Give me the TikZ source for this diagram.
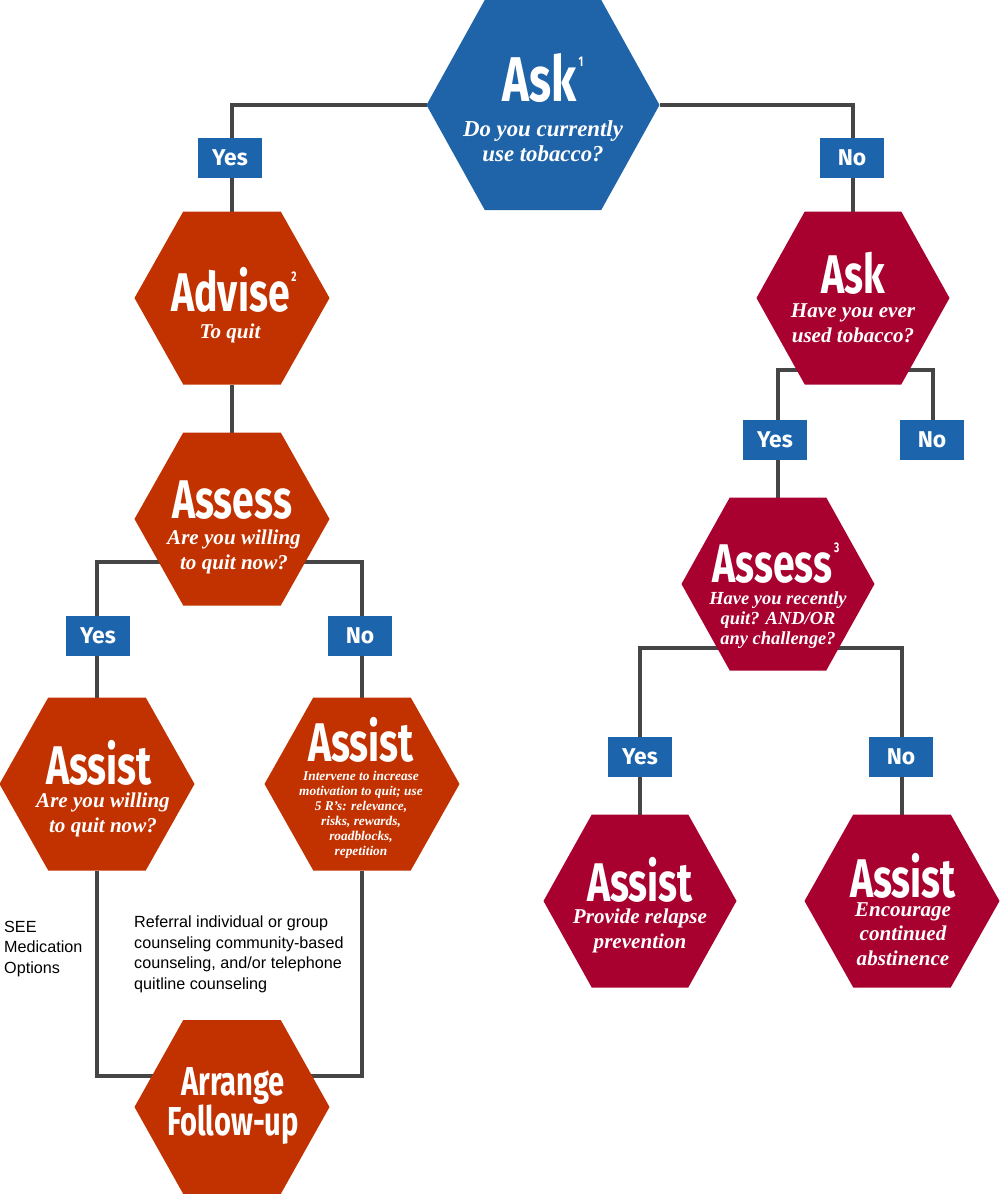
\documentclass[tikz,border=0pt]{standalone}
\usepackage{fontspec}
\setmainfont{Liberation Serif}
\newfontfamily\headfont{Fira Sans}
\newfontfamily\plainfont{Liberation Sans}
\usetikzlibrary{calc}
\pgfdeclarelayer{background}
\pgfsetlayers{background,main}
\definecolor{askblue}{HTML}{1F64A8}
\definecolor{tagblue}{HTML}{1C64AB}
\definecolor{redhex}{HTML}{A8002F}
\definecolor{orangehex}{HTML}{C23200}
\definecolor{linegray}{HTML}{454545}
\tikzset{
  hexbox/.style={draw=none,inner sep=0,outer sep=0},
  tag/.style={fill=tagblue,text=white,minimum width=64*0.02cm,minimum height=40*0.02cm,
    inner sep=0,font=\headfont\bfseries\fontsize{13}{13}\selectfont},
  link/.style={draw=linegray,line width=2.2pt},
  title/.style={text=white,inner sep=0,font=\headfont\bfseries\fontsize{31}{31}\selectfont},
  sub/.style={text=white,inner sep=0,align=center,font=\bfseries\itshape\fontsize{12}{14}\selectfont}
}
\newcommand{\hexnode}[5]{%
  \node[hexbox,minimum width=#3*0.02cm,minimum height=#4*0.02cm] (#1) at #2 {};
  \fill[#5] (#1.west) -- ($(#1.north west)!.25!(#1.north east)$)
    -- ($(#1.north west)!.75!(#1.north east)$) -- (#1.east)
    -- ($(#1.south west)!.75!(#1.south east)$)
    -- ($(#1.south west)!.25!(#1.south east)$) -- cycle;}
\newcommand{\cond}[1]{\scalebox{0.72}[1]{#1}}
\newcommand{\fnum}[1]{\raisebox{0.55em}{\fontsize{8}{8}\selectfont\,#1}}
\begin{document}
\begin{tikzpicture}[x=0.02cm,y=-0.02cm]
\useasboundingbox (0,0) rectangle (1000,1194);
% hexagons
\hexnode{ask}{(543,105)}{233}{210}{askblue}
\hexnode{askever}{(853,298)}{193}{173}{redhex}
\hexnode{advise}{(232,298)}{195}{173}{orangehex}
\hexnode{assessL}{(232,519)}{195}{173}{orangehex}
\hexnode{assessR}{(778,584)}{193}{173}{redhex}
\hexnode{assistA}{(97,784)}{195}{173}{orangehex}
\hexnode{assistB}{(362,784)}{195}{173}{orangehex}
\hexnode{arrange}{(232,1107)}{195}{174}{orangehex}
\hexnode{assistC}{(640,901)}{193}{173}{redhex}
\hexnode{assistD}{(902,901)}{195}{173}{redhex}
% connectors
\begin{pgfonlayer}{background}
  \draw[link] (ask.west) -| (advise.north);
  \draw[link] (ask.east) -| (askever.north);
  \draw[link] (advise.south) -- (assessL.north);
  \draw[link] ($(assessL.center)+(0,43)$) -| (assistA.north);
  \draw[link] ($(assessL.center)+(0,43)$) -| (assistB.north);
  \draw[link] ($(askever.center)+(0,72)$) -| (assessR.north);
  \draw[link] ($(askever.center)+(0,72)$) -| (933,430);
  \draw[link] ($(assessR.center)+(0,64)$) -| (assistC.north);
  \draw[link] ($(assessR.center)+(0,64)$) -| (assistD.north);
  \draw[link] (assistA.south) |- ($(arrange.center)+(0,-31)$);
  \draw[link] (assistB.south) |- ($(arrange.center)+(0,-31)$);
\end{pgfonlayer}
% tags
\node[tag] (yes1) at (230,158) {Yes};
\node[tag] (no1) at (852,158) {No};
\node[tag] (yes2) at (775,440) {Yes};
\node[tag] (no2) at (932,440) {No};
\node[tag] (yes3) at (98,636) {Yes};
\node[tag] (no3) at (360,636) {No};
\node[tag] (yes4) at (640,757) {Yes};
\node[tag] (no4) at (901,757) {No};
% texts
\node[title,font=\headfont\bfseries\fontsize{36}{36}\selectfont] (t1) at (543,78) {\cond{Ask\fnum{1}}};
\node[sub,font=\bfseries\itshape\fontsize{13}{14.5}\selectfont] (s1) at (543,141) {Do you currently\\use tobacco?};
\node[title] (t2) at (853,273) {\cond{Ask}};
\node[sub] (s2) at (853,323) {Have you ever\\used tobacco?};
\node[title] (t3) at (234,290) {\cond{Advise\fnum{2}}};
\node[sub] (s3) at (230,333) {To quit};
\node[title] (t4) at (232,500) {\cond{Assess}};
\node[sub] (s4) at (234,552) {Are you willing\\to quit now?};
\node[title] (t5) at (776,563) {\cond{Assess\fnum{3}}};
\node[sub,font=\bfseries\itshape\fontsize{10.5}{11.5}\selectfont] (s5) at (778,620) {Have you recently\\quit? AND/OR\\any challenge?};
\node[title] (t6) at (99,763) {\cond{Assist}};
\node[sub] (s6) at (103,815) {Are you willing\\to quit now?};
\node[title] (t7) at (361,740) {\cond{Assist}};
\node[sub,font=\bfseries\itshape\fontsize{7.6}{8.6}\selectfont] (s7) at (361,815) {Intervene to increase\\motivation to quit; use\\5 R's: relevance,\\risks, rewards,\\roadblocks,\\repetition};
\node[title] (t8) at (640,880) {\cond{Assist}};
\node[sub] (s8) at (640,931) {Provide relapse\\prevention};
\node[title] (t9) at (903,876) {\cond{Assist}};
\node[sub] (s9) at (903,934) {Encourage\\continued\\abstinence};
\node[title,align=center,font=\headfont\bfseries\fontsize{23}{23}\selectfont] (t10) at (233,1106) {\cond{Arrange}\\\cond{Follow-up}};
\node[align=left,anchor=north west,font=\plainfont\fontsize{9.2}{11.6}\selectfont] (med) at (-2,915) {SEE\\Medication\\Options};
\node[align=left,anchor=north west,font=\plainfont\fontsize{9.2}{11.6}\selectfont] (ref) at (128,910) {Referral individual or group\\counseling community-based\\counseling, and/or telephone\\quitline counseling};
\end{tikzpicture}
\end{document}
